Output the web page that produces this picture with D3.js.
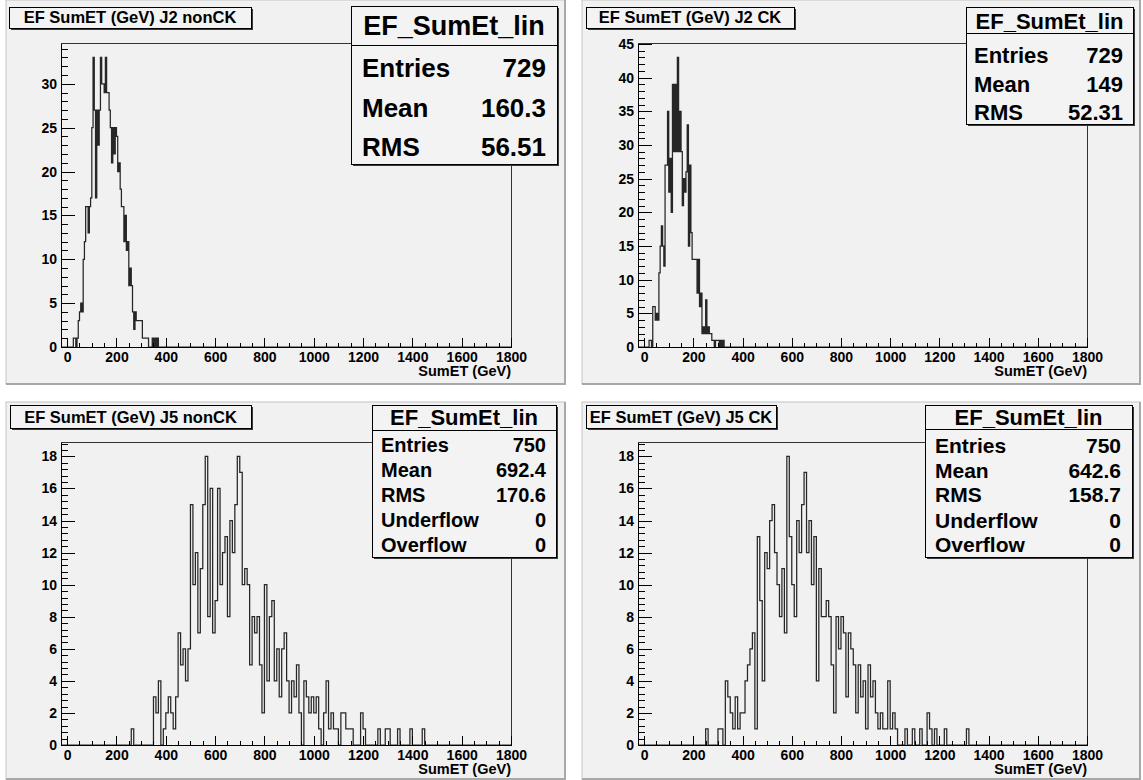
<!DOCTYPE html>
<html>
<head>
<meta charset="utf-8">
<script src="https://cdnjs.cloudflare.com/ajax/libs/d3/7.8.5/d3.min.js"></script>
<style>
  body { margin: 0; background: #ffffff; }
  svg text {
    font-family: "Liberation Sans", Arial, Helvetica, sans-serif;
    font-weight: bold;
    fill: #000;
  }
  .axis path, .axis line {
    stroke: #000;
    shape-rendering: crispEdges;
  }
  .axis text { font-size: 14px; }
  .hist { fill: none; stroke: #262626; stroke-width: 1.25; }
</style>
</head>
<body>
<script>
// ---- data ----
var xRange = [-25, 1800];
var xTickValues = [0, 200, 400, 600, 800, 1000, 1200, 1400, 1600, 1800];

// J2 histograms: 5 GeV bins
var j2BinWidth = 5;
var j2NonCkStart = 20;
var j2NonCkCounts = [0, 1, 1, 0, 1, 3, 4, 5, 4, 10, 12, 16, 16, 13, 16, 17, 25, 33, 27, 17,
  27, 23, 27, 33, 30, 30, 29, 33, 29, 29, 27, 25, 21, 25, 22, 25, 24, 20, 21, 18,
  16, 16, 12, 15, 11, 12, 7, 9, 7, 4, 2, 4, 3, 3, 3, 3, 3, 1, 1, 1,
  1, 1, 0, 0, 0, 1, 0, 1, 0, 1];
var j2CkStart = 20;
var j2CkCounts = [1, 1, 0, 6, 6, 4, 5, 4, 11, 15, 18, 15, 12, 27, 27, 35, 23, 28, 20, 39,
  29, 39, 29, 43, 29, 35, 29, 21, 25, 23, 26, 33, 15, 27, 17, 13, 13, 13, 13, 8,
  13, 6, 8, 2, 3, 2, 7, 2, 3, 2, 2, 1, 1, 0, 1, 1, 1, 0, 1, 0, 1];

// J5 histograms: 10 GeV bins
var j5BinWidth = 10;
var j5NonCkStart = 250;
var j5NonCkCounts = [0, 1, 0, 0, 0, 0, 0, 0, 0, 0, 3, 2, 4, 0, 1, 2, 3, 2, 1, 3,
  7, 5, 6, 4, 6, 15, 10, 12, 7, 11, 15, 18, 8, 16, 7, 9, 16, 10, 12, 13,
  8, 14, 12, 15, 18, 17, 10, 11, 10, 5, 8, 7, 8, 5, 2, 10, 4, 8, 9, 4,
  6, 3, 6, 7, 4, 2, 4, 3, 5, 2, 0, 4, 3, 2, 3, 2, 3, 1, 0, 2,
  4, 1, 2, 1, 1, 0, 2, 2, 1, 1, 1, 0, 0, 0, 2, 1, 0, 0, 0, 0,
  0, 1, 0, 0, 1, 1, 0, 0, 0, 1, 0, 0, 0, 0, 1, 0, 0, 0, 0, 1];
var j5CkStart = 250;
var j5CkCounts = [1, 0, 0, 0, 0, 1, 1, 0, 4, 3, 2, 1, 3, 1, 2, 2, 4, 5, 6, 7,
  1, 13, 9, 4, 12, 11, 14, 15, 12, 10, 8, 11, 7, 18, 13, 10, 8, 14, 12, 15,
  17, 12, 14, 10, 13, 4, 11, 8, 8, 9, 8, 5, 2, 8, 6, 8, 7, 3, 7, 6,
  5, 2, 5, 3, 4, 1, 5, 3, 4, 2, 1, 2, 1, 1, 4, 1, 2, 1, 0, 0,
  0, 1, 0, 0, 1, 0, 0, 1, 0, 0, 2, 1, 0, 1, 0, 0, 0, 1, 0, 0,
  0, 0, 0, 0, 0, 0, 1];

var j2NonCkYTicks = [0, 5, 10, 15, 20, 25, 30];
var j2CkYTicks = [0, 5, 10, 15, 20, 25, 30, 35, 40, 45];
var j5YTicks = [0, 2, 4, 6, 8, 10, 12, 14, 16, 18];

var j2StatLabels = ["Entries", "Mean", "RMS"];
var j2NonCkStatValues = ["729", "160.3", "56.51"];
var j2CkStatValues = ["729", "149", "52.31"];
var j5StatLabels = ["Entries", "Mean", "RMS", "Underflow", "Overflow"];
var j5NonCkStatValues = ["750", "692.4", "170.6", "0", "0"];
var j5CkStatValues = ["750", "642.6", "158.7", "0", "0"];

var panels = [
  { title: "EF SumET (GeV) J2 nonCK", start: j2NonCkStart, bw: j2BinWidth, counts: j2NonCkCounts,
    yTicks: j2NonCkYTicks, yMinor: 1, labels: j2StatLabels, values: j2NonCkStatValues,
    pad: [6, 0, 565, 384], frame: [61, 43, 511, 347], tbox: [9, 7, 251, 28],
    sbox: [351, 6, 557, 164], sdiv: 45, hFont: 27, hBase: 35, rFont: 26,
    rows: [77, 117, 156], lx: 362, vx: 546 },
  { title: "EF SumET (GeV) J2 CK", start: j2CkStart, bw: j2BinWidth, counts: j2CkCounts,
    yTicks: j2CkYTicks, yMinor: 1, labels: j2StatLabels, values: j2CkStatValues,
    pad: [582, 0, 1140, 384], frame: [638, 43, 1087, 347], tbox: [586, 7, 794, 28],
    sbox: [966, 7, 1133, 124], sdiv: 33, hFont: 22, hBase: 29, rFont: 22,
    rows: [63, 92, 120], lx: 974, vx: 1123 },
  { title: "EF SumET (GeV) J5 nonCK", start: j5NonCkStart, bw: j5BinWidth, counts: j5NonCkCounts,
    yTicks: j5YTicks, yMinor: 0.4, labels: j5StatLabels, values: j5NonCkStatValues,
    pad: [6, 402, 565, 779], frame: [61, 442, 511, 745], tbox: [10, 405, 251, 428],
    sbox: [372, 405, 556, 557], sdiv: 430, hFont: 22, hBase: 425, rFont: 20,
    rows: [452, 477, 502, 527, 552], lx: 381, vx: 546 },
  { title: "EF SumET (GeV) J5 CK", start: j5CkStart, bw: j5BinWidth, counts: j5CkCounts,
    yTicks: j5YTicks, yMinor: 0.4, labels: j5StatLabels, values: j5CkStatValues,
    pad: [582, 402, 1140, 779], frame: [638, 442, 1087, 745], tbox: [586, 405, 776, 428],
    sbox: [925, 405, 1132, 557], sdiv: 429, hFont: 22, hBase: 425, rFont: 21,
    rows: [453, 478, 502, 528, 552], lx: 935, vx: 1121 }
];

var svg = d3.select("body").append("svg")
    .attr("width", 1143)
    .attr("height", 780);

function shadowBox(g, b) {
  g.append("rect")
      .attr("x", b[0] + 2).attr("y", b[1] + 2)
      .attr("width", b[2] - b[0]).attr("height", b[3] - b[1])
      .attr("fill", "#3a3a3a");
  g.append("rect")
      .attr("x", b[0]).attr("y", b[1])
      .attr("width", b[2] - b[0]).attr("height", b[3] - b[1])
      .attr("fill", "#f3f3f3")
      .attr("stroke", "#000")
      .attr("stroke-width", 1)
      .attr("shape-rendering", "crispEdges");
}

panels.forEach(function(p) {
  var g = svg.append("g");
  var f = p.frame;

  // pad
  g.append("rect")
      .attr("x", p.pad[0]).attr("y", p.pad[1])
      .attr("width", p.pad[2] - p.pad[0]).attr("height", p.pad[3] - p.pad[1])
      .attr("fill", "#f1f1f1")
      .attr("stroke", "#c4c4c4");
  g.append("path")
      .attr("d", "M" + p.pad[2] + "," + p.pad[1] + "V" + p.pad[3] + "H" + p.pad[0])
      .attr("fill", "none")
      .attr("stroke", "#a8a8a8")
      .attr("stroke-width", 2);

  var yMax = d3.max(p.counts) * 1.05;
  var x = d3.scaleLinear().domain(xRange).range([f[0], f[2]]);
  var y = d3.scaleLinear().domain([0, yMax]).range([f[3], f[1]]);

  // frame
  g.append("rect")
      .attr("x", f[0]).attr("y", f[1])
      .attr("width", f[2] - f[0]).attr("height", f[3] - f[1])
      .attr("fill", "none")
      .attr("stroke", "#333")
      .attr("shape-rendering", "crispEdges");

  // histogram as a step outline
  var pts = [[xRange[0], 0]];
  p.counts.forEach(function(c, i) { pts.push([p.start + i * p.bw, c]); });
  pts.push([p.start + p.counts.length * p.bw, 0]);
  pts.push([xRange[1], 0]);
  var line = d3.line()
      .x(function(d) { return x(d[0]); })
      .y(function(d) { return y(d[1]); })
      .curve(d3.curveStepAfter);
  g.append("path").attr("class", "hist").attr("d", line(pts));

  // x axis, major + minor ticks pointing into the frame
  var xMinor = d3.range(0, 1801, 50).filter(function(v) { return v % 200 !== 0; });
  g.append("g").attr("class", "axis")
      .attr("transform", "translate(0," + f[3] + ")")
      .call(d3.axisBottom(x).tickValues(xMinor).tickSize(-4.5).tickSizeOuter(0).tickFormat(""))
      .select(".domain").remove();
  g.append("g").attr("class", "axis")
      .attr("transform", "translate(0," + f[3] + ")")
      .call(d3.axisBottom(x).tickValues(xTickValues).tickSize(-9).tickSizeOuter(0).tickPadding(5)
          .tickFormat(d3.format("d")));

  // y axis
  var step = p.yTicks[1] - p.yTicks[0];
  var yMinor = d3.range(0, yMax, p.yMinor).filter(function(v) {
    var r = v / step;
    return Math.abs(r - Math.round(r)) > 1e-6;
  });
  g.append("g").attr("class", "axis")
      .attr("transform", "translate(" + f[0] + ",0)")
      .call(d3.axisLeft(y).tickValues(yMinor).tickSize(-6.75).tickSizeOuter(0).tickFormat(""))
      .select(".domain").remove();
  g.append("g").attr("class", "axis")
      .attr("transform", "translate(" + f[0] + ",0)")
      .call(d3.axisLeft(y).tickValues(p.yTicks).tickSize(-13.5).tickSizeOuter(0).tickPadding(4));

  g.append("text")
      .attr("x", f[2]).attr("y", f[3] + 29)
      .attr("text-anchor", "end")
      .style("font-size", "14.5px")
      .text("SumET (GeV)");

  // title box
  shadowBox(g, p.tbox);
  g.append("text")
      .attr("x", (p.tbox[0] + p.tbox[2]) / 2)
      .attr("y", p.tbox[3] - 5)
      .attr("text-anchor", "middle")
      .style("font-size", "16.5px")
      .text(p.title);

  // stats box
  var s = p.sbox;
  shadowBox(g, s);
  g.append("line")
      .attr("x1", s[0]).attr("x2", s[2])
      .attr("y1", p.sdiv).attr("y2", p.sdiv)
      .attr("stroke", "#000")
      .attr("shape-rendering", "crispEdges");
  g.append("text")
      .attr("x", (s[0] + s[2]) / 2).attr("y", p.hBase)
      .attr("text-anchor", "middle")
      .style("font-size", p.hFont + "px")
      .text("EF_SumEt_lin");
  p.labels.forEach(function(lab, i) {
    g.append("text")
        .attr("x", p.lx).attr("y", p.rows[i])
        .style("font-size", p.rFont + "px")
        .text(lab);
    g.append("text")
        .attr("x", p.vx).attr("y", p.rows[i])
        .attr("text-anchor", "end")
        .style("font-size", p.rFont + "px")
        .text(p.values[i]);
  });
});
</script>
</body>
</html>
